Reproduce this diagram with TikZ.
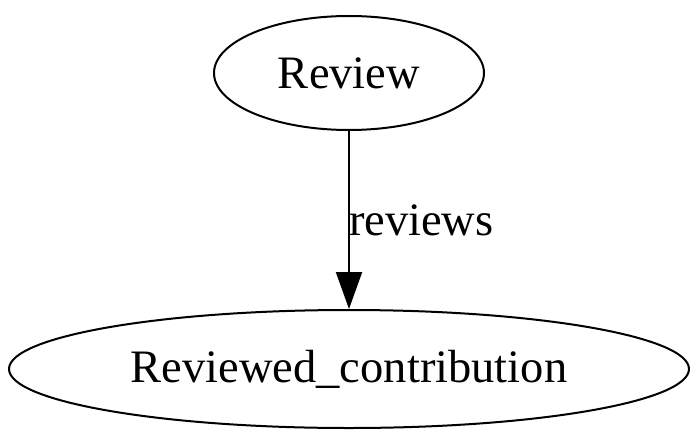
\documentclass[tikz,border=0pt]{standalone}
\usepackage{fontspec}
\setmainfont{Liberation Serif}
\usetikzlibrary{shapes.geometric,arrows.meta}
\begin{document}
\begin{tikzpicture}[x=1pt,y=-1pt,
  gnode/.style={draw,ellipse,line width=2pt,inner sep=0pt,font=\fontsize{46.5}{55}\selectfont},
  edge/.style={line width=2pt,-{Triangle[length=37pt,width=26pt]}},
  elabel/.style={inner sep=0pt,font=\fontsize{46.5}{55}\selectfont}]
\useasboundingbox (0,0) rectangle (700,441);
\node[gnode,minimum width=270pt,minimum height=114pt] (review) at (349,73) {Review};
\node[gnode,minimum width=680pt,minimum height=118pt] (rc) at (349,369) {Reviewed\_contribution};
\draw[edge] (review) -- (rc) node[elabel,midway,anchor=west,xshift=-1pt] (lbl) {reviews};
\end{tikzpicture}
\end{document}
